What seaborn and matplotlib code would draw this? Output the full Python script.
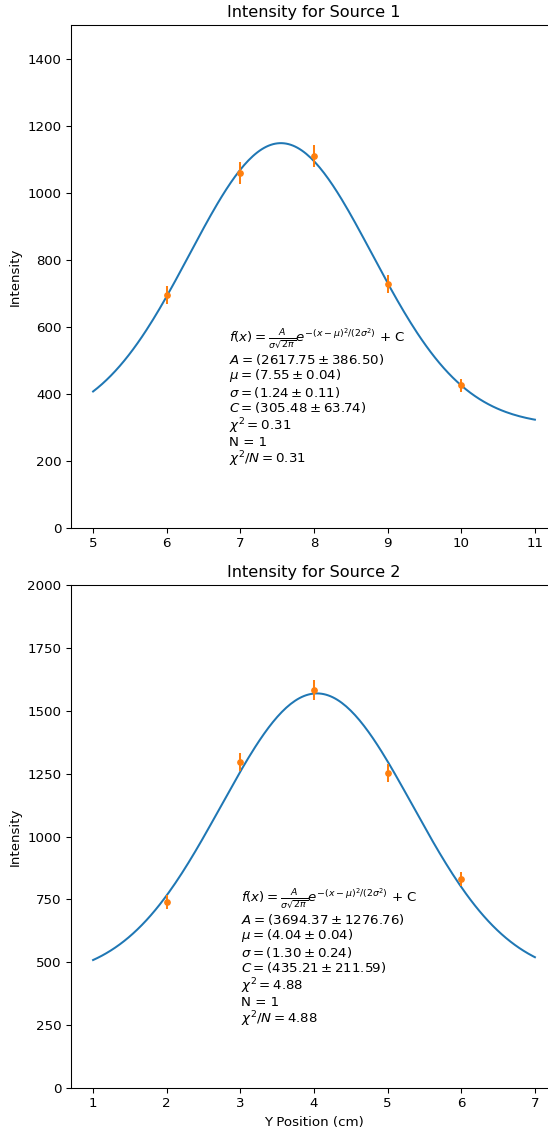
import numpy as np
import pandas as pd
import matplotlib.pyplot as plt
import seaborn as sns

# measured points (y position in cm, intensity) with sqrt(N) errors
x1 = [6, 7, 8, 9, 10]
y1 = [695, 1059, 1110, 728, 425]
err1 = [26.4, 32.5, 33.3, 27.0, 20.6]

x2 = [2, 3, 4, 5, 6]
y2 = [740, 1296, 1581, 1252, 831]
err2 = [27.2, 36.0, 39.8, 35.4, 28.8]

# fit results shown on the chart: A, mu, sigma, C and their errors
fit1 = [2617.75, 7.55, 1.24, 305.48]
fit1_err = [386.50, 0.04, 0.11, 63.74]
chi2_1 = 0.31

fit2 = [3694.37, 4.04, 1.30, 435.21]
fit2_err = [1276.76, 0.04, 0.24, 211.59]
chi2_2 = 4.88

n_dof = 1
fit_range1 = [5, 11]
fit_range2 = [1, 7]


def gauss(x, A, mu, sigma, C):
    return A / (sigma * np.sqrt(2 * np.pi)) * np.exp(-(x - mu) ** 2 / (2 * sigma ** 2)) + C


def fit_text(p, pe, chi2):
    return (r"$f(x) = \frac{A}{\sigma\sqrt{2\pi}}e^{-(x-\mu)^2/(2\sigma^2)}$ + C" + "\n"
            + r"$A = (%.2f \pm %.2f)$" % (p[0], pe[0]) + "\n"
            + r"$\mu = (%.2f \pm %.2f)$" % (p[1], pe[1]) + "\n"
            + r"$\sigma = (%.2f \pm %.2f)$" % (p[2], pe[2]) + "\n"
            + r"$C = (%.2f \pm %.2f)$" % (p[3], pe[3]) + "\n"
            + r"$\chi^2 = %.2f$" % chi2 + "\n"
            + "N = %d" % n_dof + "\n"
            + r"$\chi^2/N = %.2f$" % (chi2 / n_dof))


dpi = 96.6
fig = plt.figure(figsize=(548 / dpi, 1131 / dpi), dpi=dpi)
ax1 = fig.add_axes([71 / 548, (1131 - 528) / 1131, 486 / 548, 503 / 1131])
ax2 = fig.add_axes([71 / 548, (1131 - 1088) / 1131, 486 / 548, 503 / 1131])

panels = [
    (ax1, x1, y1, err1, fit1, fit1_err, chi2_1, fit_range1, 1500, "Intensity for Source 1", 0.325),
    (ax2, x2, y2, err2, fit2, fit2_err, chi2_2, fit_range2, 2000, "Intensity for Source 2", 0.35),
]

for ax, xs, ys, es, p, pe, chi2, rng, ymax, title, tx in panels:
    xx = np.linspace(rng[0], rng[1], 200)
    curve = pd.DataFrame({"x": xx, "y": gauss(xx, *p)})
    sns.lineplot(data=curve, x="x", y="y", ax=ax, color="C0", linewidth=1.5)
    ax.errorbar(xs, ys, yerr=es, fmt="o", color="C1", markersize=4, elinewidth=1.5)
    ax.set_ylim(0, ymax)
    ax.set_title(title)
    ax.set_ylabel("Intensity")
    ax.set_xlabel("")
    ax.text(tx, 0.40, fit_text(p, pe, chi2), transform=ax.transAxes,
            ha="left", va="top", fontsize=10, linespacing=1.05)

ax2.set_xlabel("Y Position (cm)")

plt.savefig("out.png", dpi=dpi)
plt.close()
